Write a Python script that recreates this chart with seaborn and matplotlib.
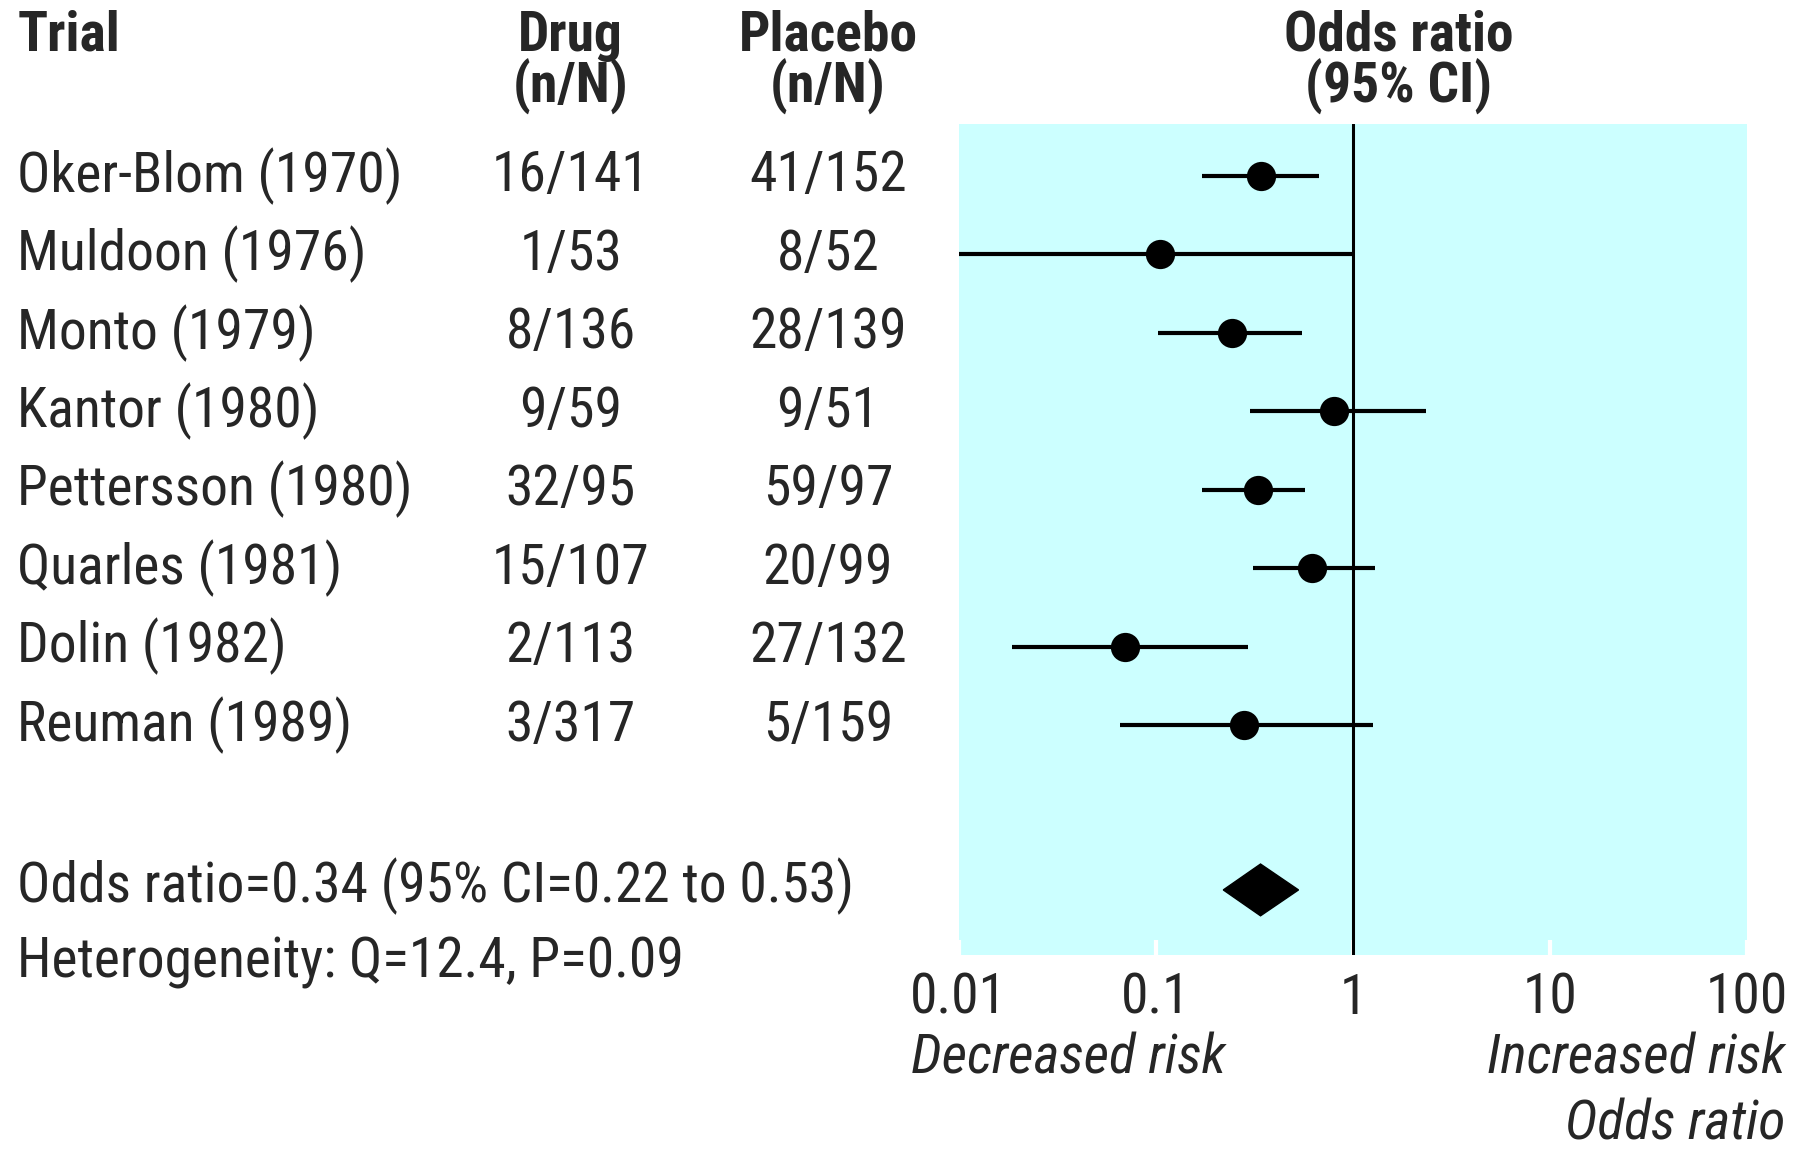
import matplotlib
matplotlib.use("Agg")
import matplotlib.pyplot as plt
from matplotlib import font_manager
import numpy as np
import pandas as pd
import seaborn as sns

#### data
trials = ["Oker-Blom (1970)", "Muldoon (1976)", "Monto (1979)", "Kantor (1980)",
          "Pettersson (1980)", "Quarles (1981)", "Dolin (1982)", "Reuman (1989)"]
drug = ["16/141", "1/53", "8/136", "9/59", "32/95", "15/107", "2/113", "3/317"]
placebo = ["41/152", "8/52", "28/139", "9/51", "59/97", "20/99", "27/132", "5/159"]
odds = [0.34, 0.105, 0.245, 0.80, 0.33, 0.62, 0.070, 0.28]
ci_low = [0.172, 0.01, 0.103, 0.30, 0.172, 0.31, 0.0186, 0.066]
ci_high = [0.67, 0.99, 0.55, 2.36, 0.57, 1.29, 0.295, 1.26]
pooled = [0.34, 0.22, 0.53]  # estimate, low, high
summary_lines = ["Odds ratio=0.34 (95% CI=0.22 to 0.53)", "Heterogeneity: Q=12.4, P=0.09"]
tick_vals = [0.01, 0.1, 1, 10, 100]
tick_labels = ["0.01", "0.1", "1", "10", "100"]

df = pd.DataFrame({"trial": trials, "odds": odds, "lo": ci_low, "hi": ci_high,
                   "row": np.arange(len(trials))})

sns.set_theme(style="white")
names = {f.name for f in font_manager.fontManager.ttflist}
family = "DejaVu Sans"
for cand in ["Roboto Condensed", "Liberation Sans Narrow", "DejaVu Sans"]:
    if cand in names:
        family = cand
        break
plt.rcParams["font.family"] = [family, "DejaVu Sans"]
plt.rcParams["font.stretch"] = "condensed"

fig = plt.figure(figsize=(18, 11.54), dpi=100)
ax = fig.add_axes([0.5326, 0.1724, 0.9706 - 0.5326, 0.8925 - 0.1724])
ax.set_facecolor("#ccffff")
for s in ax.spines.values():
    s.set_visible(False)

# confidence intervals + point estimates
ax.hlines(df["row"], df["lo"], df["hi"], color="black", lw=3)
sns.scatterplot(data=df, x="odds", y="row", ax=ax, s=380, color="black",
                edgecolor="black", zorder=4, legend=False)

# pooled diamond
pe, plo, phi = pooled
drow = 9.1
ax.fill([plo, pe, phi, pe], [drow, drow - 0.33, drow, drow + 0.33], color="black", zorder=4)

ax.axvline(1, color="black", lw=2.2, zorder=3)

fs = 40
ax.set_xscale("log")
ax.set_xlim(0.01, 100)
ax.set_ylim(9.93, -0.66)
ax.set_xticks(tick_vals)
ax.set_xticklabels(tick_labels)
ax.minorticks_off()
ax.set_yticks([])
ax.tick_params(axis="x", direction="in", length=11, width=3, color="white",
               pad=12, labelsize=fs, bottom=True)
ax.set_xlabel("")
ax.set_ylabel("")

tr = matplotlib.transforms.blended_transform_factory(fig.transFigure, ax.transData)
for i in range(len(trials)):
    fig.text(0.0096, i, trials[i], transform=tr, fontsize=fs, va="center", ha="left")
    fig.text(0.317, i, drug[i], transform=tr, fontsize=fs, va="center", ha="center")
    fig.text(0.46, i, placebo[i], transform=tr, fontsize=fs, va="center", ha="center")

fig.text(0.0096, 9.05, summary_lines[0], transform=tr, fontsize=fs, va="center", ha="left")
fig.text(0.0096, 10.02, summary_lines[1], transform=tr, fontsize=fs, va="center", ha="left")

# headers
hy1, hy2 = 0.969, 0.9245
fig.text(0.0096, hy1, "Trial", fontsize=fs, weight="bold", va="center", ha="left")
fig.text(0.317, hy1, "Drug", fontsize=fs, weight="bold", va="center", ha="center")
fig.text(0.317, hy2, "(n/N)", fontsize=fs, weight="bold", va="center", ha="center")
fig.text(0.46, hy1, "Placebo", fontsize=fs, weight="bold", va="center", ha="center")
fig.text(0.46, hy2, "(n/N)", fontsize=fs, weight="bold", va="center", ha="center")
fig.text(0.777, hy1, "Odds ratio", fontsize=fs, weight="bold", va="center", ha="center")
fig.text(0.777, hy2, "(95% CI)", fontsize=fs, weight="bold", va="center", ha="center")

fig.text(0.506, 1 - 1058 / 1154, "Decreased risk", fontsize=fs, style="italic", va="center", ha="left")
fig.text(0.992, 1 - 1058 / 1154, "Increased risk", fontsize=fs, style="italic", va="center", ha="right")
fig.text(0.992, 1 - 1124 / 1154, "Odds ratio", fontsize=fs, style="italic", va="center", ha="right")

fig.savefig("out.png", dpi=100, facecolor="white")
